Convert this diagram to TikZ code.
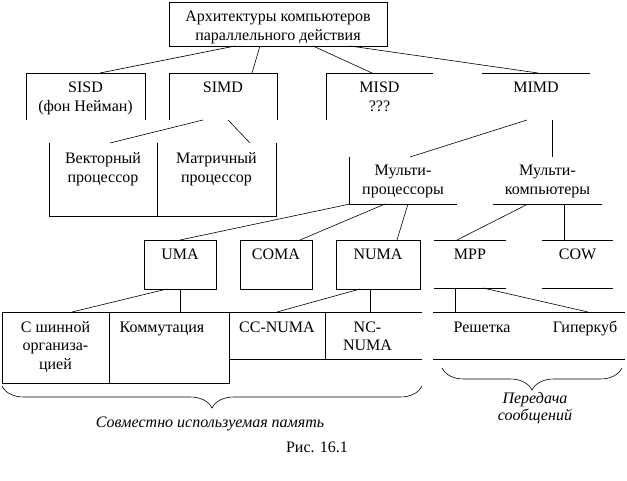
\documentclass[tikz,border=0pt]{standalone}
\usepackage{fontspec}
\setmainfont{Liberation Serif}
\usetikzlibrary{calc,decorations.pathreplacing}
\begin{document}
\begin{tikzpicture}[x=1pt,y=-1pt,
  every node/.style={inner sep=0pt, outer sep=0pt},
  area/.style 2 args={minimum width=#1pt, minimum height=#2pt},
  full/.style={draw, line width=0.6pt},
  lbl/.style={anchor=base, align=center, font=\fontsize{16}{19}\selectfont},
  link/.style={line width=0.6pt},
  edge/.style={line width=0.6pt},
  brc/.style={line width=0.6pt, decorate, decoration={brace, mirror, amplitude=22pt}},
  note/.style={align=center, font=\fontsize{16}{17}\selectfont\itshape}]
\useasboundingbox (0,0) rectangle (627,481);

% ---- boxes ----
\node[area={218}{44}, full] (top) at (278,24) {};
\node[area={119}{47}] (sisd) at (85.5,96.5) {};
\node[area={108}{47}] (simd) at (223,96.5) {};
\node[area={107}{47}] (misd) at (379.5,96.5) {};
\node[area={108}{47}] (mimd) at (536,96.5) {};
\node[area={108}{73}] (vec) at (103,179.5) {};
\node[area={119}{73}] (mat) at (216.5,179.5) {};
\node[area={108}{47}] (mproc) at (403,180.5) {};
\node[area={109}{47}] (mcomp) at (547.5,180.5) {};
\node[area={72}{49}, full] (uma) at (180,264.5) {};
\node[area={72}{49}, full] (coma) at (276,264.5) {};
\node[area={84}{49}, full] (numa) at (378,264.5) {};
\node[area={72}{48}] (mpp) at (470,264) {};
\node[area={71}{48}] (cow) at (577.5,264) {};
\node[area={107}{71}, full] (bus) at (55.5,347.5) {};
\node[area={120}{71}, full] (comm) at (169,347.5) {};
\node[area={96}{47}] (ccn) at (277,335.5) {};
\node[area={97}{47}] (ncn) at (373.5,335.5) {};
\node[area={96}{47}] (grid) at (481,335.5) {};
\node[area={96}{47}] (hyp) at (577,335.5) {};

% ---- partial frames ----
\draw[edge] (sisd.south west) -- (sisd.north west) -- (sisd.north east) -- (sisd.south east);
\draw[edge] (simd.south west) -- (simd.north west) -- (simd.north east) -- (simd.south east);
\draw[edge] (misd.south west) -- (misd.north west) -- (misd.north east);
\draw[edge] (mimd.north west) -- (mimd.north east);
\draw[edge] (vec.north west) -- (vec.south west) -- (mat.south east) -- (mat.north east);
\draw[edge] (mat.north west) -- (mat.south west);
\draw[edge] (mproc.north west) -- (mproc.south west) -- (mproc.south east);
\draw[edge] (mcomp.south west) -- (mcomp.south east);
\draw[edge] (mpp.north west) -- (mpp.north east);
\draw[edge] (mpp.south west) -- (mpp.south east);
\draw[edge] (cow.north west) -- (cow.north east);
\draw[edge] (cow.south west) -- (cow.south east);
\draw[edge] (ccn.north west) -- (ncn.north east);
\draw[edge] (ccn.south west) -- (ncn.south east);
\draw[edge] (ccn.north east) -- (ccn.south east);
\draw[edge] (grid.north west) -- (hyp.north east);
\draw[edge] (grid.south west) -- (hyp.south east);

% ---- labels (base = baseline of the last line) ----
\node[lbl] (top-t) at ($(top.north)+(0,38.5)$) {Архитектуры компьютеров\\параллельного действия};
\node[lbl] (sisd-t) at ($(sisd.north)+(0,38.5)$) {SISD\\(фон Нейман)};
\node[lbl] (simd-t) at ($(simd.north)+(0,19.5)$) {SIMD};
\node[lbl] (misd-t) at ($(misd.north)+(0,38.5)$) {MISD\\???};
\node[lbl] (mimd-t) at ($(mimd.north)+(0,19.5)$) {MIMD};
\node[lbl] (vec-t) at ($(vec.north)+(0,40)$) {Векторный\\процессор};
\node[lbl] (mat-t) at ($(mat.north)+(0,40)$) {Матричный\\процессор};
\node[lbl] (mproc-t) at ($(mproc.north)+(0,37.5)$) {Мульти-\\процессоры};
\node[lbl] (mcomp-t) at ($(mcomp.north)+(0,37.5)$) {Мульти-\\компьютеры};
\node[lbl] (uma-t) at ($(uma.north)+(0,20)$) {UMA};
\node[lbl] (coma-t) at ($(coma.north)+(0,20)$) {COMA};
\node[lbl] (numa-t) at ($(numa.north)+(0,20)$) {NUMA};
\node[lbl] (mpp-t) at ($(mpp.north)+(0,19.5)$) {MPP};
\node[lbl] (cow-t) at ($(cow.north)+(0,19.5)$) {COW};
\node[lbl] (bus-t) at ($(bus.north)+(0,58)$) {С шинной\\организа-\\цией};
\node[lbl] (comm-t) at ($(comm.north)+(-7,20)$) {Коммутация};
\node[lbl] (ccn-t) at ($(ccn.north)+(0,20)$) {CC-NUMA};
\node[lbl] (ncn-t) at ($(ncn.north)+(-6,39)$) {NC-\\NUMA};
\node[lbl] (grid-t) at ($(grid.north)+(1,20)$) {Решетка};
\node[lbl] (hyp-t) at ($(hyp.north)+(8,20)$) {Гиперкуб};

% ---- connectors ----
\draw[link] ($(top.south west)+(66,0)$) -- ($(sisd.north west)+(74,0)$);
\draw[link] ($(top.south west)+(91,0)$) -- ($(simd.north west)+(83,0)$);
\draw[link] ($(top.south west)+(144,0)$) -- ($(misd.north west)+(46,0)$);
\draw[link] ($(top.south west)+(181,0)$) -- ($(mimd.north west)+(56,0)$);
\draw[link] ($(simd.south west)+(34,0)$) -- ($(vec.north west)+(61,0)$);
\draw[link] ($(simd.south west)+(59,0)$) -- ($(mat.north west)+(93,0)$);
\draw[link] ($(mimd.south west)+(45,0)$) -- ($(mproc.north west)+(61,0)$);
\draw[link] ($(mimd.south west)+(70,0)$) -- ($(mcomp.north west)+(59,0)$);
\draw[link] ($(mproc.south west)+(1,0)$) -- ($(uma.north west)+(36,0)$);
\draw[link] ($(mproc.south west)+(36,0)$) -- ($(coma.north west)+(60,0)$);
\draw[link] ($(mproc.south west)+(59,0)$) -- ($(numa.north west)+(61,0)$);
\draw[link] ($(mcomp.south west)+(35,0)$) -- ($(mpp.north west)+(23,0)$);
\draw[link] ($(mcomp.south west)+(71,0)$) -- ($(cow.north west)+(22,0)$);
\draw[link] ($(uma.south west)+(23,0)$) -- ($(bus.north west)+(70,0)$);
\draw[link] ($(uma.south west)+(36,0)$) -- ($(comm.north west)+(71,0)$);
\draw[link] ($(numa.south west)+(24,0)$) -- ($(ccn.north west)+(48,0)$);
\draw[link] ($(numa.south west)+(34,0)$) -- ($(ncn.north west)+(45,0)$);
\draw[link] ($(mpp.south west)+(21,0)$) -- ($(grid.north west)+(22,0)$);
\draw[link] ($(mpp.south west)+(49,0)$) -- ($(hyp.north west)+(59,0)$);

% ---- braces and captions ----
\coordinate (sm-l) at (2,386);
\coordinate (sm-r) at (422,386);
\coordinate (ms-l) at (442,368);
\coordinate (ms-r) at (622,368);
\draw[brc] (sm-l) -- (sm-r);
\draw[brc] (ms-l) -- (ms-r);
\node[note, anchor=base] (sm-t) at (210,427) {Совместно используемая память};
\node[note, anchor=base] (ms-t) at (535,420) {Передача\\сообщений};
\node[lbl] (fig) at (317,452) {Рис. 16.1};
\end{tikzpicture}
\end{document}
